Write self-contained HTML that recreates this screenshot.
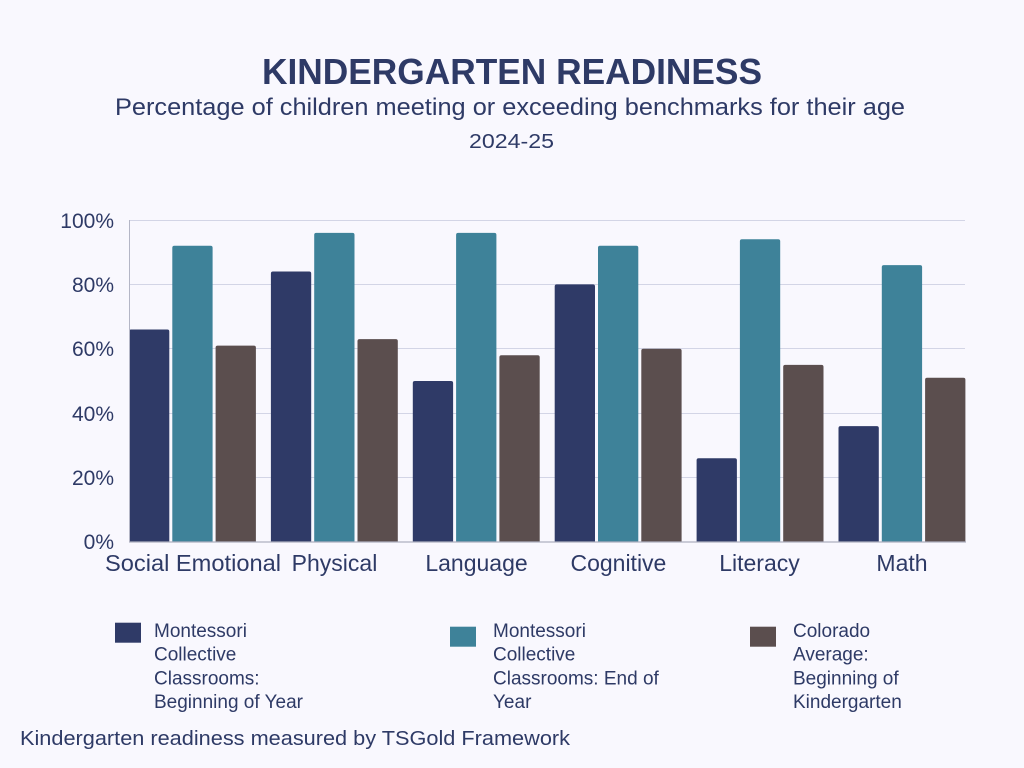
<!DOCTYPE html>
<html>
<head>
<meta charset="utf-8">
<style>
  html, body { margin: 0; padding: 0; background: #f9f8fe; }
  svg { display: block; }
  text { font-family: "Liberation Sans", "DejaVu Sans", sans-serif; fill: #2e3a66; }
</style>
</head>
<body>
<svg width="1024" height="768" viewBox="0 0 1024 768" xmlns="http://www.w3.org/2000/svg">
  <rect x="0" y="0" width="1024" height="768" fill="#f9f8fe"/>

  <!-- Titles -->
  <text x="512" y="84" font-size="36" font-weight="bold" text-anchor="middle" textLength="500" lengthAdjust="spacingAndGlyphs">KINDERGARTEN READINESS</text>
  <text x="510" y="115" font-size="24" text-anchor="middle" textLength="790" lengthAdjust="spacingAndGlyphs">Percentage of children meeting or exceeding benchmarks for their age</text>
  <text x="511.5" y="148" font-size="20" text-anchor="middle" textLength="85" lengthAdjust="spacingAndGlyphs">2024-25</text>

  <!-- Gridlines -->
  <g stroke="#d3d5e6" stroke-width="1">
    <line x1="129" y1="220.5" x2="965" y2="220.5"/>
    <line x1="129" y1="284.5" x2="965" y2="284.5"/>
    <line x1="129" y1="348.5" x2="965" y2="348.5"/>
    <line x1="129" y1="413.5" x2="965" y2="413.5"/>
    <line x1="129" y1="477.5" x2="965" y2="477.5"/>
  </g>

  <!-- Y labels -->
  <g font-size="21" text-anchor="end">
    <text x="114" y="228">100%</text>
    <text x="114" y="292">80%</text>
    <text x="114" y="356">60%</text>
    <text x="114" y="421">40%</text>
    <text x="114" y="485">20%</text>
    <text x="114" y="549">0%</text>
  </g>

  <!-- Bars -->
  <g id="bars">
    <!-- Social Emotional: 66, 92, 61 -->
    <path d="M129,542 V331.5 Q129,329.5 131,329.5 H167.3 Q169.3,329.5 169.3,331.5 V542 Z" fill="#2f3a67"/>
    <path d="M172.3,542 V247.8 Q172.3,245.8 174.3,245.8 H210.6 Q212.6,245.8 212.6,247.8 V542 Z" fill="#3e8299"/>
    <path d="M215.6,542 V347.6 Q215.6,345.6 217.6,345.6 H253.9 Q255.9,345.6 255.9,347.6 V542 Z" fill="#5b4e4e"/>
    <!-- Physical: 84, 96, 63 -->
    <path d="M270.9,542 V273.5 Q270.9,271.5 272.9,271.5 H309.2 Q311.2,271.5 311.2,273.5 V542 Z" fill="#2f3a67"/>
    <path d="M314.2,542 V234.9 Q314.2,232.9 316.2,232.9 H352.5 Q354.5,232.9 354.5,234.9 V542 Z" fill="#3e8299"/>
    <path d="M357.5,542 V341.1 Q357.5,339.1 359.5,339.1 H395.8 Q397.8,339.1 397.8,341.1 V542 Z" fill="#5b4e4e"/>
    <!-- Language: 50, 96, 58 -->
    <path d="M412.8,542 V383 Q412.8,381 414.8,381 H451.1 Q453.1,381 453.1,383 V542 Z" fill="#2f3a67"/>
    <path d="M456.1,542 V234.9 Q456.1,232.9 458.1,232.9 H494.4 Q496.4,232.9 496.4,234.9 V542 Z" fill="#3e8299"/>
    <path d="M499.4,542 V357.2 Q499.4,355.2 501.4,355.2 H537.7 Q539.7,355.2 539.7,357.2 V542 Z" fill="#5b4e4e"/>
    <!-- Cognitive: 80, 92, 60 -->
    <path d="M554.7,542 V286.4 Q554.7,284.4 556.7,284.4 H593 Q595,284.4 595,286.4 V542 Z" fill="#2f3a67"/>
    <path d="M598,542 V247.8 Q598,245.8 600,245.8 H636.3 Q638.3,245.8 638.3,247.8 V542 Z" fill="#3e8299"/>
    <path d="M641.3,542 V350.8 Q641.3,348.8 643.3,348.8 H679.6 Q681.6,348.8 681.6,350.8 V542 Z" fill="#5b4e4e"/>
    <!-- Literacy: 26, 94, 55 -->
    <path d="M696.6,542 V460.3 Q696.6,458.3 698.6,458.3 H734.9 Q736.9,458.3 736.9,460.3 V542 Z" fill="#2f3a67"/>
    <path d="M739.9,542 V241.3 Q739.9,239.3 741.9,239.3 H778.2 Q780.2,239.3 780.2,241.3 V542 Z" fill="#3e8299"/>
    <path d="M783.2,542 V366.9 Q783.2,364.9 785.2,364.9 H821.5 Q823.5,364.9 823.5,366.9 V542 Z" fill="#5b4e4e"/>
    <!-- Math: 36, 86, 51 -->
    <path d="M838.5,542 V428.1 Q838.5,426.1 840.5,426.1 H876.8 Q878.8,426.1 878.8,428.1 V542 Z" fill="#2f3a67"/>
    <path d="M881.8,542 V267.1 Q881.8,265.1 883.8,265.1 H920.1 Q922.1,265.1 922.1,267.1 V542 Z" fill="#3e8299"/>
    <path d="M925.1,542 V379.8 Q925.1,377.8 927.1,377.8 H963.4 Q965.4,377.8 965.4,379.8 V542 Z" fill="#5b4e4e"/>
  </g>

  <!-- Axes -->
  <line x1="129.5" y1="220" x2="129.5" y2="542" stroke="#b4b6c6" stroke-width="1"/>
  <line x1="129" y1="542" x2="966" y2="542" stroke="#aeb0c0" stroke-width="1.2"/>

  <!-- Category labels -->
  <g font-size="23" text-anchor="middle">
    <text x="193" y="571" textLength="176" lengthAdjust="spacingAndGlyphs">Social Emotional</text>
    <text x="334.5" y="571">Physical</text>
    <text x="476.5" y="571">Language</text>
    <text x="618.4" y="571">Cognitive</text>
    <text x="759.5" y="571">Literacy</text>
    <text x="902" y="571">Math</text>
  </g>

  <!-- Legend -->
  <rect x="115" y="622.7" width="26" height="20" fill="#2f3a67"/>
  <g font-size="19">
    <text x="154" y="637">Montessori</text>
    <text x="154" y="660.7">Collective</text>
    <text x="154" y="684.4">Classrooms:</text>
    <text x="154" y="708">Beginning of Year</text>
  </g>

  <rect x="450" y="626.7" width="26" height="20" fill="#3e8299"/>
  <g font-size="19">
    <text x="493" y="637">Montessori</text>
    <text x="493" y="660.7">Collective</text>
    <text x="493" y="684.4">Classrooms: End of</text>
    <text x="493" y="708">Year</text>
  </g>

  <rect x="750" y="626.7" width="26" height="20" fill="#5b4e4e"/>
  <g font-size="19">
    <text x="793" y="637">Colorado</text>
    <text x="793" y="660.7">Average:</text>
    <text x="793" y="684.4">Beginning of</text>
    <text x="793" y="708">Kindergarten</text>
  </g>

  <!-- Footer -->
  <text x="20" y="745" font-size="20" textLength="550" lengthAdjust="spacingAndGlyphs">Kindergarten readiness measured by TSGold Framework</text>
</svg>
</body>
</html>
